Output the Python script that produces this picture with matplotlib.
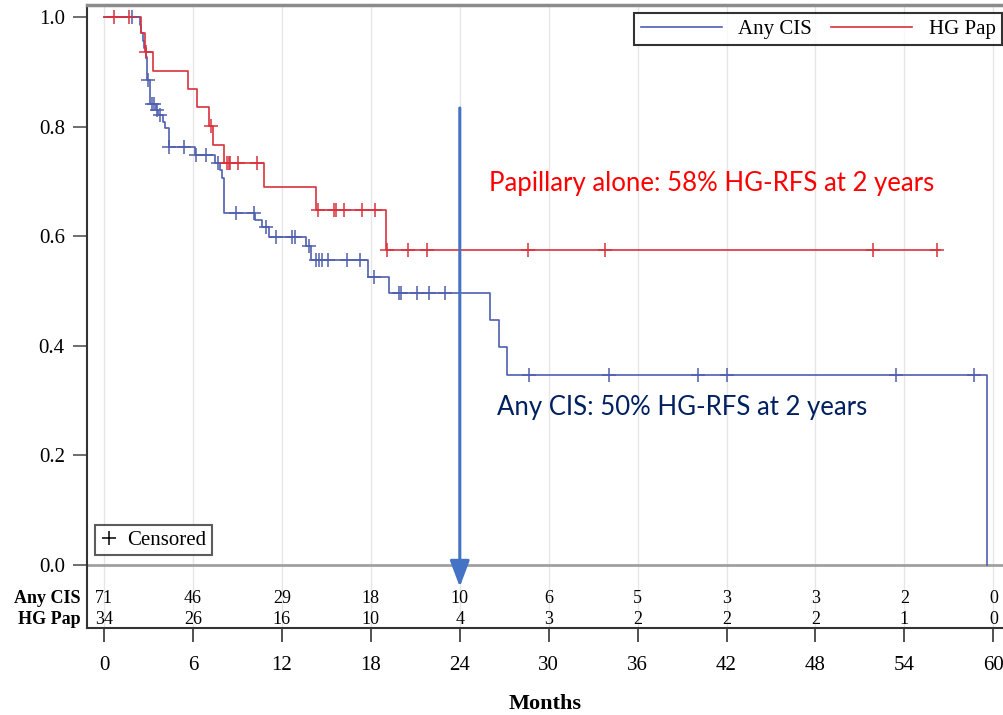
import numpy as np
import matplotlib
matplotlib.use("Agg")
import matplotlib.pyplot as plt
from matplotlib.lines import Line2D

# Kaplan-Meier steps (months, survival after the step)
cis_times = [0, 2.4, 2.5, 2.6, 2.7, 2.8, 2.9, 3.1, 3.5, 3.67, 3.95, 4.13, 4.35, 6.15,
             7.5, 7.8, 7.95, 8.1, 10.2, 10.67, 11.1, 13.65, 13.95, 17.8, 19.2,
             26.05, 26.65, 27.2, 59.6]
cis_surv = [1.0, 0.986, 0.971, 0.957, 0.943, 0.928, 0.885, 0.842, 0.830, 0.821, 0.809,
            0.797, 0.763, 0.748, 0.733, 0.720, 0.706, 0.642, 0.630, 0.617, 0.599,
            0.583, 0.557, 0.526, 0.496, 0.447, 0.397, 0.347, 0.0]
cis_censor = [1.9, 2.95, 3.2, 3.35, 3.6, 3.8, 4.4, 5.4, 6.2, 6.85, 7.7, 8.9, 10.1,
              10.9, 11.6, 12.7, 12.9, 13.8, 14.3, 14.5, 14.7, 15.1, 16.4, 17.3,
              18.2, 19.9, 20.0, 21.1, 21.9, 23.0, 28.7, 34.05, 40.05, 42.0, 53.4, 58.7]

pap_times = [0, 2.5, 2.75, 3.27, 5.66, 6.3, 7.06, 7.33, 8.1, 10.78, 14.3, 19.05, 56.4]
pap_surv = [1.0, 0.970, 0.937, 0.902, 0.869, 0.836, 0.801, 0.766, 0.734, 0.689,
            0.648, 0.575, 0.575]
pap_censor = [0.7, 1.7, 2.85, 7.2, 8.3, 8.4, 8.5, 9.05, 10.33, 14.4, 15.5, 15.65,
              16.2, 17.4, 18.3, 19.1, 20.5, 21.8, 28.6, 33.8, 51.9, 56.2]

# numbers at risk
risk_months = [0, 6, 12, 18, 24, 30, 36, 42, 48, 54, 60]
risk_cis = [71, 46, 29, 18, 10, 6, 5, 3, 3, 2, 0]
risk_pap = [34, 26, 16, 10, 4, 3, 2, 2, 2, 1, 0]

CIS_COLOR = "#4f5fae"
PAP_COLOR = "#d9323c"
SERIF = "Liberation Serif"


def step_value(times, surv, t):
    idx = np.searchsorted(times, t, side="right") - 1
    return np.array(surv)[idx]


fig = plt.figure(figsize=(10.04, 7.15), dpi=100)
ax = fig.add_axes([0.0867, 0.1217, 0.9133, 0.8713])

ax.set_xlim(-1.15, 60.72)
ax.set_ylim(-0.115, 1.022)

# vertical grid
for m in risk_months:
    ax.axvline(m, color="#e6e6e6", lw=1, zorder=0)
# line between plot and risk table
ax.axhline(0, color="#a0a0a0", lw=2, zorder=1)

ax.step(cis_times, cis_surv, where="post", color=CIS_COLOR, lw=1.2, zorder=3)
ax.step(pap_times, pap_surv, where="post", color=PAP_COLOR, lw=1.2, zorder=3)
ax.plot(cis_censor, step_value(cis_times, cis_surv, cis_censor), ls="none",
        marker="+", ms=10, mew=1.1, color=CIS_COLOR, zorder=4)
ax.plot(pap_censor, step_value(pap_times, pap_surv, pap_censor), ls="none",
        marker="+", ms=10, mew=1.1, color=PAP_COLOR, zorder=4)

# risk table inside the box, under y=0
for m, a, b in zip(risk_months, risk_cis, risk_pap):
    ax.text(m, -0.062, str(a), ha="center", va="center", fontsize=13, family=SERIF)
    ax.text(m, -0.1, str(b), ha="center", va="center", fontsize=13, family=SERIF)
ax.text(-0.007, -0.062, "Any CIS", transform=ax.get_yaxis_transform(), ha="right",
        va="center", fontsize=13, family=SERIF, fontweight="bold")
ax.text(-0.007, -0.1, "HG Pap", transform=ax.get_yaxis_transform(), ha="right",
        va="center", fontsize=13, family=SERIF, fontweight="bold")

# axes styling
ax.set_xticks(risk_months)
ax.set_yticks([0, 0.2, 0.4, 0.6, 0.8, 1.0])
ax.set_yticklabels(["0.0", "0.2", "0.4", "0.6", "0.8", "1.0"])
ax.tick_params(axis="x", direction="out", length=10, width=1.2, color="#333333",
               pad=10, labelsize=15)
ax.tick_params(axis="y", direction="out", length=10, width=1.2, color="#555555",
               pad=6, labelsize=15)
for lab in ax.get_xticklabels() + ax.get_yticklabels():
    lab.set_family(SERIF)
for side in ["left", "bottom"]:
    ax.spines[side].set_color("#333333")
    ax.spines[side].set_linewidth(1.5)
ax.spines["right"].set_visible(False)
ax.spines["top"].set_color("#8c8c8c")
ax.spines["top"].set_linewidth(2.5)

ax.set_xlabel("Months", fontsize=16, family=SERIF, fontweight="bold", labelpad=14)

# legends
handles = [Line2D([], [], color=CIS_COLOR, lw=1.2), Line2D([], [], color=PAP_COLOR, lw=1.2)]
leg = ax.legend(handles, ["Any CIS", "HG Pap"], loc="upper right", ncol=2,
                bbox_to_anchor=(0.9978, 0.987), borderaxespad=0,
                prop={"family": SERIF, "size": 15}, frameon=True, fancybox=False,
                edgecolor="black", handlelength=3.9, columnspacing=0.9,
                borderpad=0.3, handletextpad=0.8)
leg.get_frame().set_linewidth(1.5)
ax.add_artist(leg)

cens = ax.legend([Line2D([], [], color="black", marker="+", ls="none", ms=10, mew=1.1)],
                 ["Censored"], loc="lower left", bbox_to_anchor=(0.0087, 0.117),
                 borderaxespad=0, prop={"family": SERIF, "size": 15}, frameon=True,
                 fancybox=False, edgecolor="#333333", handlelength=0.8,
                 handletextpad=0.5, borderpad=0.25)
cens.get_frame().set_linewidth(1.5)

# annotations added on top of the chart
ax.annotate("", xy=(24, -0.04), xytext=(24, 0.834), annotation_clip=False,
            arrowprops=dict(arrowstyle="-|>,head_width=0.3,head_length=0.8",
                            color="#4472c4", lw=2.2, mutation_scale=20,
                            shrinkA=0, shrinkB=0), zorder=5)
ax.text(26.0, 0.696, "Papillary alone: 58% HG-RFS at 2 years", color="#ff0000",
        fontsize=18.5, family="Lato", va="center", ha="left")
ax.text(26.5, 0.287, "Any CIS: 50% HG-RFS at 2 years", color="#002060",
        fontsize=18.5, family="Lato", va="center", ha="left")

fig.savefig("out.png", dpi=100)
